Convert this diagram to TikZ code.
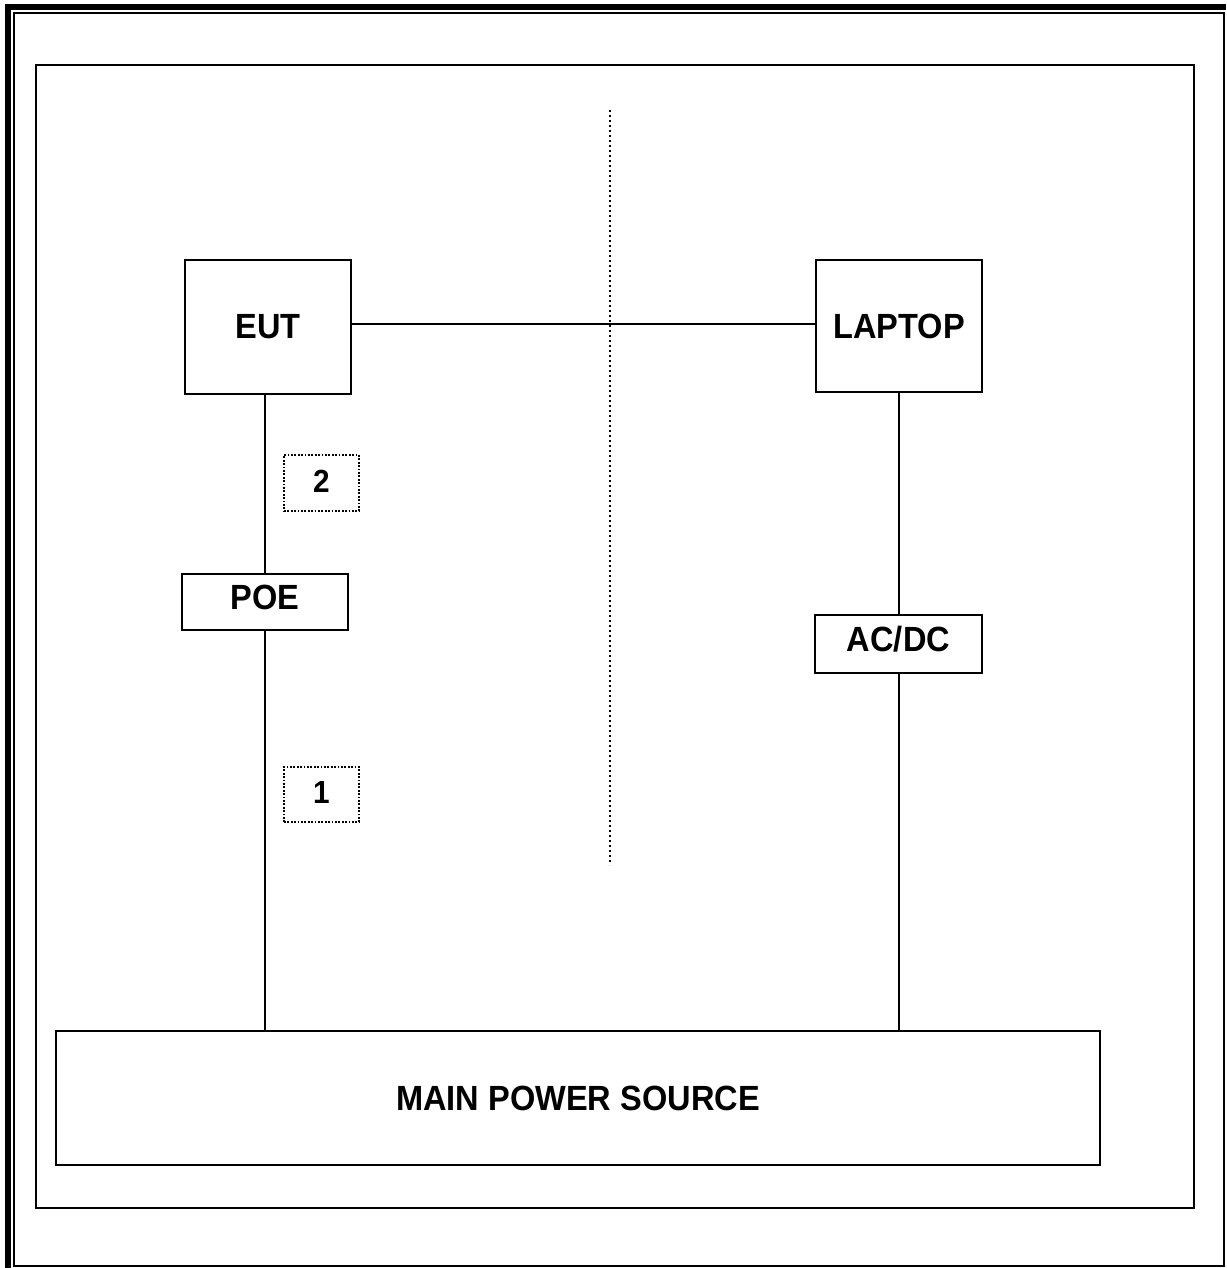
\documentclass[tikz,border=0pt]{standalone}
\usepackage{fontspec}
\setmainfont{Liberation Sans}[FakeStretch=0.93]
\begin{document}
\begin{tikzpicture}[x=0.5pt,y=-0.5pt,
  blk/.style={draw, line width=1pt, inner sep=0pt, font=\bfseries\fontsize{17.5}{21}\selectfont},
  numbox/.style={draw, line width=1pt, dash pattern=on 0.9pt off 0.8pt, inner sep=0pt, font=\bfseries\fontsize{16}{19}\selectfont},
  wire/.style={line width=1pt},
  sep/.style={line width=0.9pt, dash pattern=on 1.1pt off 1.4pt}]
% canvas
\fill[white] (0,0) rectangle (1226,1268);
\useasboundingbox (0,0) rectangle (1226,1268);
% page border
\draw[line width=3.2pt] (5,7) -- (1226,7);
\draw[line width=3.2pt] (8,4) -- (8,1268);
\draw[line width=1.1pt] (14,13) rectangle (1224,1266);
% inner frame
\draw[line width=1pt] (36,65) rectangle (1194,1208);
% nodes
\node[blk, minimum width=83pt, minimum height=67pt] (eut) at (268,327) {EUT};
\node[blk, minimum width=83pt, minimum height=66pt] (laptop) at (899,326) {LAPTOP};
\node[blk, minimum width=83pt, minimum height=28pt, text depth=5pt] (poe) at (265,602) {POE};
\node[blk, minimum width=83.5pt, minimum height=29pt, text depth=5pt] (acdc) at (898.5,644) {AC/DC};
\node[blk, minimum width=522pt, minimum height=67pt] (main) at (578,1098) {MAIN POWER SOURCE};
\node[numbox, minimum width=37.5pt, minimum height=28pt, text depth=2pt] (n2) at (321.5,483) {2};
\node[numbox, minimum width=37.5pt, minimum height=27.5pt, text depth=2pt] (n1) at (321.5,794.5) {1};
% separator
\coordinate (dtop) at (610,110);
\coordinate (dbot) at (610,865);
\draw[sep] (dtop) -- (dbot);
% connectors
\draw[wire] (eut.east |- 0,324) -- (laptop.west |- 0,324);
\draw[wire] (poe.north) -- (poe.north |- eut.south);
\draw[wire] (poe.south) -- (poe.south |- main.north);
\draw[wire] (acdc.north) -- (acdc.north |- laptop.south);
\draw[wire] (acdc.south) -- (acdc.south |- main.north);
\end{tikzpicture}
\end{document}
